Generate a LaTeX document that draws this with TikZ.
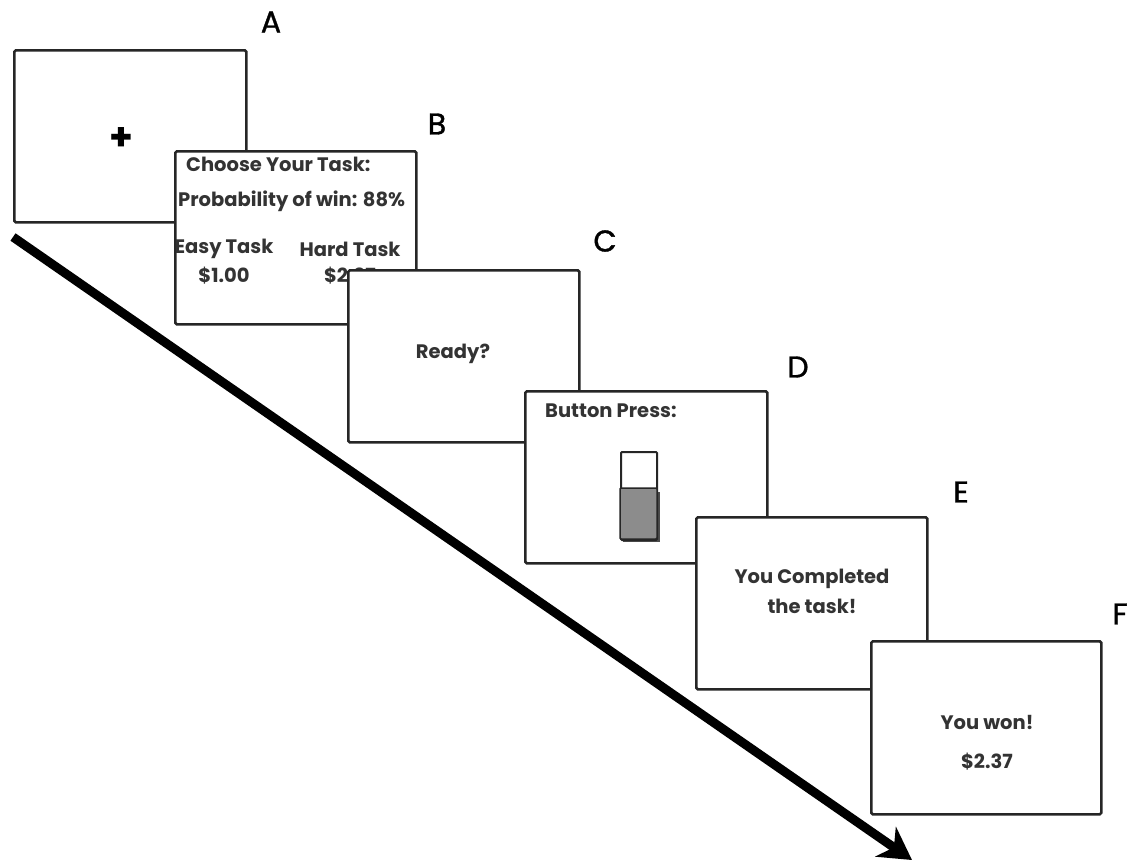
\documentclass[tikz,border=0pt]{standalone}
\usepackage{fontspec}
\setmainfont{Poppins}
\newfontfamily\lblfont{Poppins}[BoldFont={Poppins},BoldFeatures={FakeBold=1.2}]
\usetikzlibrary{arrows.meta}
\tikzset{
  screen/.style={draw=black!85, line width=2.6pt, fill=white, rounded corners=1.5pt},
  screentext/.style={font=\fontsize{19.5}{22}\selectfont\bfseries, text=black!80, inner sep=0pt},
  letterlabel/.style={font=\fontsize{30}{32}\selectfont\lblfont\bfseries, text=black, inner sep=0pt},
}
\begin{document}
\begin{tikzpicture}[x=1pt,y=-1pt]
\useasboundingbox (0,0) rectangle (1131,862);
% time arrow
\coordinate (tstart) at (13,237);
\coordinate (tend) at (912,860);
\draw[line width=9pt, -{Stealth[length=32pt,width=36pt,inset=10pt]}] (tstart) -- (tend);
% A
\node[screen, minimum width=232, minimum height=172, anchor=north west, inner sep=0pt] (A) at (13,49) {};
\node[screentext, font=\fontsize{38}{38}\selectfont\bfseries, text=black] (plus) at (121,139) {+};
\node[letterlabel] (lA) at (271,22) {A};
% B
\node[screen, minimum width=241, minimum height=173, anchor=north west, inner sep=0pt] (B) at (174,150) {};
\node[screentext, anchor=west] (b1) at (186,164) {Choose Your Task:};
\node[screentext, anchor=west] (b2) at (178,201) {Probability of win: 88\%};
\node[screentext] (b3) at (224,249) {Easy Task};
\node[screentext] (b4) at (224,276) {\$1.00};
\node[screentext] (b5) at (350,249) {Hard Task};
\node[screentext] (b6) at (350,276) {\$2.37};
\node[letterlabel] (lB) at (437,124) {B};
% C
\node[screen, minimum width=231, minimum height=172, anchor=north west, inner sep=0pt] (C) at (347,269) {};
\node[screentext] (c1) at (453,354) {Ready?};
\node[letterlabel] (lC) at (605,241) {C};
% D
\node[screen, minimum width=242, minimum height=172, anchor=north west, inner sep=0pt] (D) at (524,390) {};
\node[screentext, anchor=west] (d1) at (545,411) {Button Press:};
\fill[black!70] (623,492) rectangle (660,542);
\node[draw=black!85, line width=2pt, fill=white, minimum width=36, minimum height=88, anchor=north west, inner sep=0pt, rounded corners=1pt] (btn) at (620,451) {};
\fill[black!45, draw=black!85, line width=1.5pt, rounded corners=1pt] (620,488) rectangle (657,539);
\node[letterlabel] (lD) at (798,367) {D};
% E
\node[screen, minimum width=231, minimum height=172, anchor=north west, inner sep=0pt] (E) at (695,516) {};
\node[screentext] (e1) at (812,579) {You Completed};
\node[screentext] (e2) at (812,606) {the task!};
\node[letterlabel] (lE) at (961,492) {E};
% F
\node[screen, minimum width=230, minimum height=173, anchor=north west, inner sep=0pt] (F) at (870,640) {};
\node[screentext] (f1) at (987,722) {You won!};
\node[screentext] (f2) at (987,762) {\$2.37};
\node[letterlabel] (lF) at (1120,614) {F};
\end{tikzpicture}
\end{document}
